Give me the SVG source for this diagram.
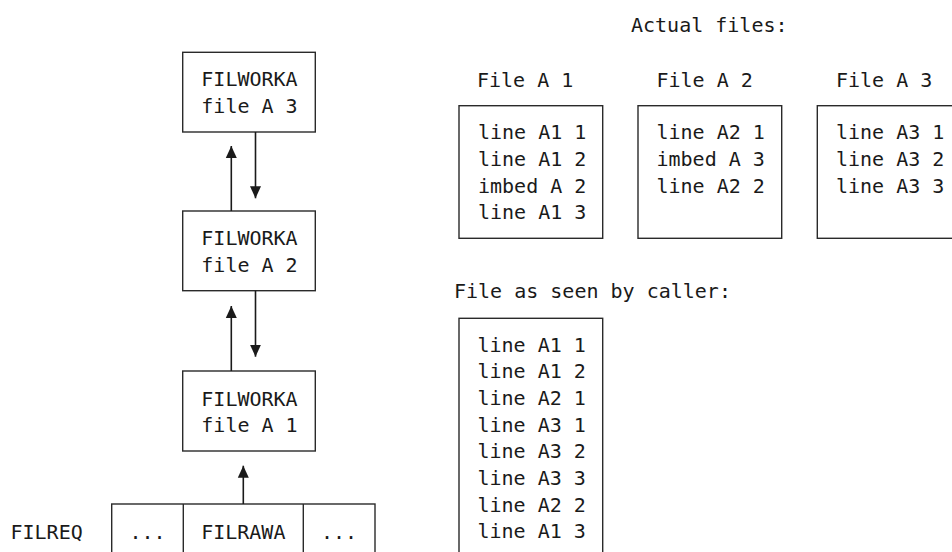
<svg xmlns="http://www.w3.org/2000/svg" width="952" height="552" viewBox="0 0 952 552">
<style>
  text { font-family: "DejaVu Sans Mono", "Liberation Mono", monospace; font-size: 20px; fill: #1a1a1a; }
  .box { fill: none; stroke: #2a2a2a; stroke-width: 1.4; }
  .c { text-anchor: middle; }
  .conn { stroke: #1a1a1a; stroke-width: 1.6; fill: none; }
</style>
<defs>
  <marker id="arrow" markerUnits="userSpaceOnUse" markerWidth="12" markerHeight="12" viewBox="0 0 12 12" refX="12" refY="6" orient="auto">
    <path d="M0,0.5 L12,6 L0,11.5 Z" fill="#1a1a1a"/>
  </marker>
</defs>
<rect width="952" height="552" fill="#ffffff"/>

<g id="node-a3">
  <rect class="box" x="182.7" y="52.3" width="132.6" height="79.7"/>
  <text class="c" x="249.5" y="85.7">FILWORKA</text>
  <text class="c" x="249.5" y="112.7">file A 3</text>
</g>
<g id="node-a2">
  <rect class="box" x="182.7" y="211" width="132.6" height="79.7"/>
  <text class="c" x="249.5" y="245">FILWORKA</text>
  <text class="c" x="249.5" y="272">file A 2</text>
</g>
<g id="node-a1">
  <rect class="box" x="182.7" y="371" width="132.6" height="80"/>
  <text class="c" x="249.5" y="406">FILWORKA</text>
  <text class="c" x="249.5" y="432">file A 1</text>
</g>
<g id="node-filreq">
  <text x="10.5" y="539.3">FILREQ</text>
  <rect class="box" x="111.7" y="504" width="263.3" height="60"/>
  <line class="box" x1="183.3" y1="504" x2="183.3" y2="564"/>
  <line class="box" x1="303.3" y1="504" x2="303.3" y2="564"/>
  <text class="c" x="147.5" y="539.3">...</text>
  <text class="c" x="243.3" y="539.3">FILRAWA</text>
  <text class="c" x="339" y="539.3">...</text>
</g>

<g id="connectors">
  <line class="conn" x1="231.3" y1="211" x2="231.3" y2="146" marker-end="url(#arrow)"/>
  <line class="conn" x1="255.5" y1="132" x2="255.5" y2="198.3" marker-end="url(#arrow)"/>
  <line class="conn" x1="231.3" y1="371" x2="231.3" y2="306" marker-end="url(#arrow)"/>
  <line class="conn" x1="255.5" y1="290.7" x2="255.5" y2="356.7" marker-end="url(#arrow)"/>
  <line class="conn" x1="243.3" y1="504" x2="243.3" y2="465.7" marker-end="url(#arrow)"/>
</g>

<g id="title-actual">
  <text x="631" y="31.7">Actual files:</text>
</g>
<g id="file-a1">
  <text x="477" y="86.7">File A 1</text>
  <rect class="box" x="459" y="105.7" width="143.7" height="132.6"/>
  <text x="478" y="139.3">line A1 1</text>
  <text x="478" y="166">line A1 2</text>
  <text x="478" y="192.6">imbed A 2</text>
  <text x="478" y="219.3">line A1 3</text>
</g>
<g id="file-a2">
  <text x="656.5" y="86.7">File A 2</text>
  <rect class="box" x="638" y="105.7" width="143.7" height="132.6"/>
  <text x="656.5" y="139.3">line A2 1</text>
  <text x="656.5" y="166">imbed A 3</text>
  <text x="656.5" y="192.6">line A2 2</text>
</g>
<g id="file-a3">
  <text x="836" y="86.7">File A 3</text>
  <rect class="box" x="817.3" y="105.7" width="150" height="132.6"/>
  <text x="836" y="139.3">line A3 1</text>
  <text x="836" y="166">line A3 2</text>
  <text x="836" y="192.6">line A3 3</text>
</g>
<g id="file-caller">
  <text x="454" y="298.3">File as seen by caller:</text>
  <rect class="box" x="459" y="318.3" width="143.7" height="250"/>
  <text x="477.5" y="351.7">line A1 1</text>
  <text x="477.5" y="378.4">line A1 2</text>
  <text x="477.5" y="405">line A2 1</text>
  <text x="477.5" y="431.7">line A3 1</text>
  <text x="477.5" y="458.4">line A3 2</text>
  <text x="477.5" y="485">line A3 3</text>
  <text x="477.5" y="511.7">line A2 2</text>
  <text x="477.5" y="538.4">line A1 3</text>
</g>
</svg>
